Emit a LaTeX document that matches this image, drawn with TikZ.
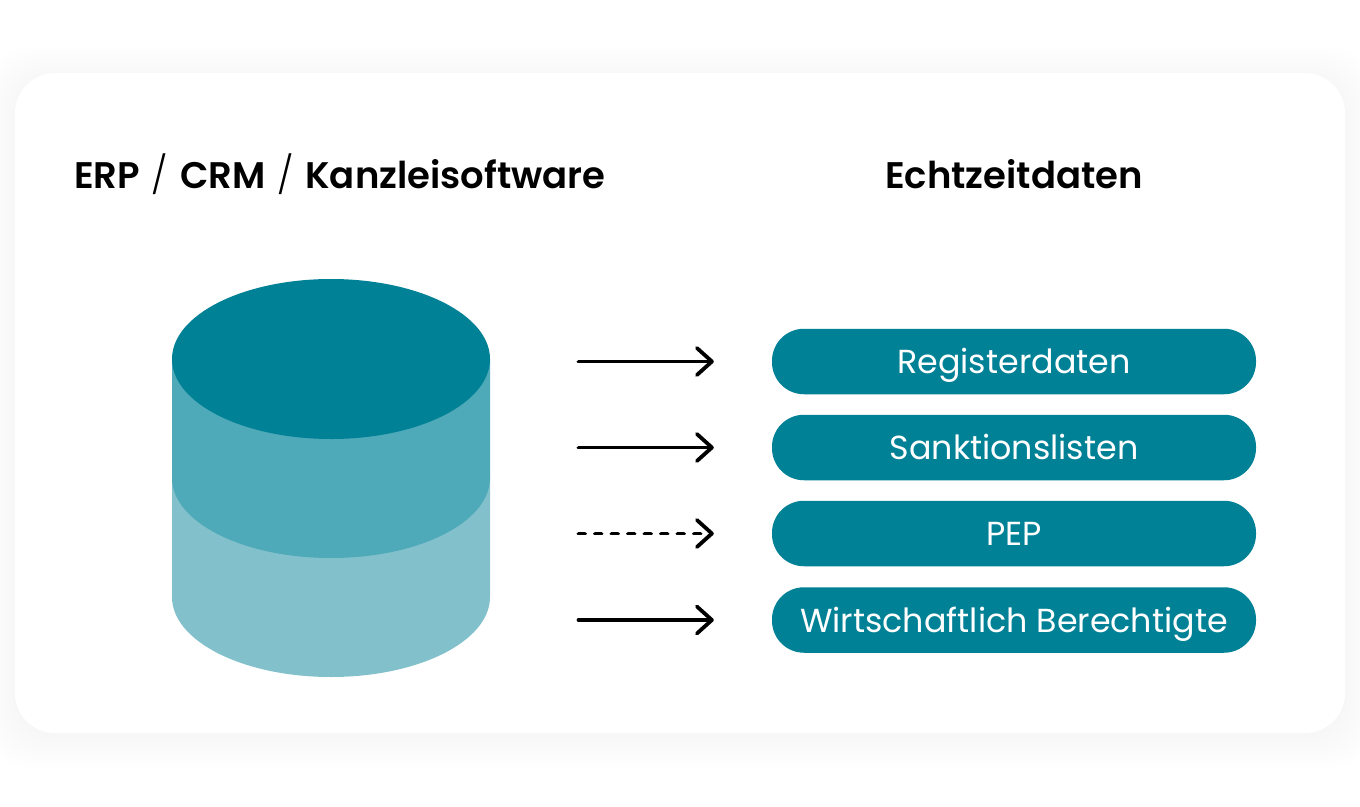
\documentclass[tikz,border=0pt]{standalone}
\usepackage{fontspec}
\setmainfont{Poppins}
\newfontfamily\headfont{Poppins SemiBold}
\usetikzlibrary{arrows.meta}
\definecolor{tealdark}{HTML}{018196}
\definecolor{tealmid}{HTML}{4EA9B8}
\definecolor{teallight}{HTML}{82C1CB}
\tikzset{
  pill/.style={fill=tealdark,rounded corners=32pt,minimum width=484pt,minimum height=65.5pt,inner sep=0pt,text=white,font=\fontsize{33.3}{38}\selectfont,text height=27pt,text depth=3pt,anchor=center},
  heading/.style={font=\headfont\fontsize{37}{42}\selectfont,text=black,inner sep=0pt},
  flow/.style={line width=3.8pt,line cap=round,line join=round,shorten >=58pt,-{Straight Barb[length=15pt,width=27pt,line width=3.8pt,round]}},
}
\newcommand{\slashsep}{\hspace{11.8pt}{\fontspec{Poppins Light}/}\hspace{11.8pt}}
\begin{document}
\begin{tikzpicture}[x=1pt,y=-1pt]
\useasboundingbox (0,0) rectangle (1360,806);
\fill[white] (0,0) rectangle (1360,806);
% soft card shadow
\foreach \g in {30,26,...,2}{
  \fill[black,opacity=0.0022,rounded corners=44pt] (15-\g,73-\g+4) rectangle (1345+\g,733+\g+4);
}
\fill[white,rounded corners=40pt] (15,73) rectangle (1345,733);
% cylinder
\fill[teallight] (172,478) -- (172,597) arc[start angle=180,end angle=0,x radius=159,y radius=80] -- (490,478) -- cycle;
\fill[tealmid] (172,359) -- (172,478) arc[start angle=180,end angle=0,x radius=159,y radius=80] -- (490,359) -- cycle;
\fill[tealdark] (331,359) ellipse[x radius=159,y radius=80];
% headings
\node[heading] (h1) at (340,174.5) {ERP\slashsep CRM\slashsep Kanzleisoftware};
\node[heading] (h2) at (1014,174.5) {Echtzeitdaten};
% pills
\node[pill] (p1) at (1014,361.5) {Registerdaten};
\node[pill] (p2) at (1014,447.5) {Sanktionslisten};
\node[pill] (p3) at (1014,533.5) {PEP};
\node[pill] (p4) at (1014,620) {Wirtschaftlich Berechtigte};
% connectors
\coordinate (s1) at (578.5,361.5);
\coordinate (s2) at (578.5,447.5);
\coordinate (s3) at (578.5,533.5);
\coordinate (s4) at (578.5,620);
\draw[flow] (s1) -- (p1.west);
\draw[flow] (s2) -- (p2.west);
\draw[flow,dash pattern=on 6.5pt off 10pt] (s3) -- (p3.west);
\draw[flow] (s4) -- (p4.west);
\end{tikzpicture}
\end{document}
